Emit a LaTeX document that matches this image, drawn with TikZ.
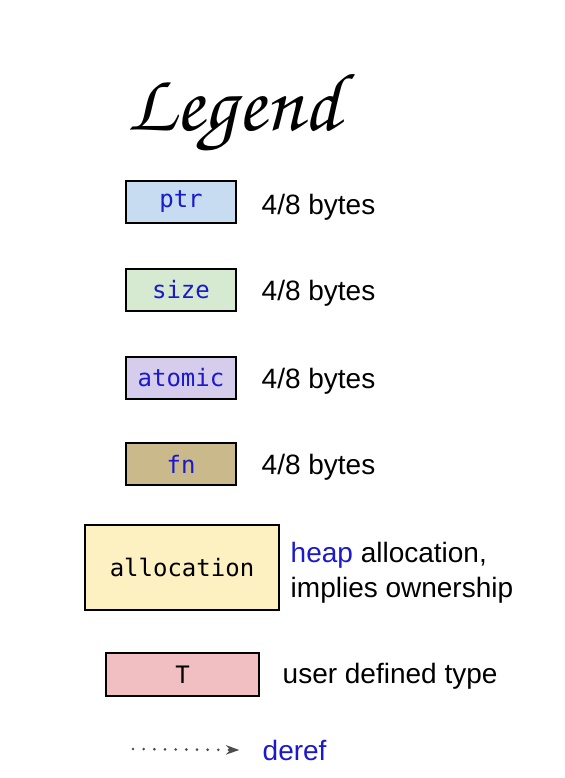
\documentclass[tikz,border=0pt]{standalone}
\usepackage[T1]{fontenc}
\usepackage{fontspec}
\setmainfont{Liberation Sans}
\setmonofont{DejaVu Sans Mono}
\usetikzlibrary{arrows.meta}

\definecolor{ptrfill}{HTML}{C7DBF1}
\definecolor{sizefill}{HTML}{D6EAD2}
\definecolor{atomicfill}{HTML}{D5CDEB}
\definecolor{fnfill}{HTML}{C9B98B}
\definecolor{allocfill}{HTML}{FDF1C2}
\definecolor{typefill}{HTML}{F1BFC1}
\definecolor{keyblue}{HTML}{1A1ACC}

\begin{document}
\begin{tikzpicture}[x=0.75pt,y=-0.75pt,
    cell/.style={draw, line width=1.5pt, minimum width=82.5pt, minimum height=31.5pt,
      font=\ttfamily\fontsize{18}{21}\selectfont, text=keyblue},
    note/.style={anchor=west, font=\fontsize{21}{26}\selectfont, align=left},
    deref/.style={gray!60!black, line width=2.2pt, line cap=round, dash pattern=on 0pt off 8pt,
      -{Stealth[length=10pt,width=7pt]}}]
    \useasboundingbox (0,0) rectangle (564,778);

    \node (title) at (234,114) {\usefont{T1}{pzc}{mb}{it}\fontsize{62}{70}\selectfont Legend};

    \node[cell, fill=ptrfill] (ptr) at (181,202) {ptr};
    \node[cell, fill=sizefill] (size) at (181,290) {size};
    \node[cell, fill=atomicfill] (atomic) at (181,378) {atomic};
    \node[cell, fill=fnfill] (fn) at (181,464) {fn};
    \node[cell, fill=allocfill, text=black, minimum width=145.5pt, minimum height=63.75pt] (alloc) at (182,567.5) {allocation};
    \node[cell, fill=typefill, text=black, minimum width=114.75pt, minimum height=32.25pt] (type) at (182.5,674.5) {T};

    \node[note] (lptr) at (257,207) {4/8 bytes};
    \node[note] (lsize) at (257,293) {4/8 bytes};
    \node[note] (latomic) at (257,381) {4/8 bytes};
    \node[note] (lfn) at (257,467) {4/8 bytes};
    \node[note] (lalloc) at (286,573) {\textcolor{keyblue}{heap} allocation,\\implies ownership};
    \node[note] (ltype) at (278,676) {user defined type};

    \coordinate (d0) at (133,749);
    \node[note, text=keyblue] (lderef) at (258,750) {deref};
    \draw[deref] (d0) -- ([xshift=-14pt]lderef.west);

\end{tikzpicture}
\end{document}
